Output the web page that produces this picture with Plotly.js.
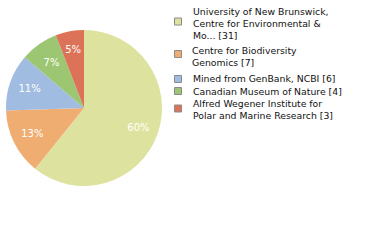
<!DOCTYPE html>
<html>
<head>
<meta charset="utf-8">
<script src="https://cdn.plot.ly/plotly-3.0.1.min.js"></script>
<style>html,body{margin:0;padding:0;background:#fff;}#chart{width:380px;height:240px;}</style>
</head>
<body>
<div id="chart"></div>
<script>
var labels = [
  "University of New Brunswick,<br>Centre for Environmental &<br>Mo... [31]",
  "Centre for Biodiversity<br>Genomics [7]",
  "Mined from GenBank, NCBI [6]",
  "Canadian Museum of Nature [4]",
  "Alfred Wegener Institute for<br>Polar and Marine Research [3]"
];
var values = [31, 7, 6, 4, 3];
var colors = ["#dde39e", "#f0ad72", "#a0bce0", "#9dc672", "#dc7359"];

var total = values.reduce(function(a, b) { return a + b; }, 0);
var pctText = values.map(function(v) { return Math.floor(v / total * 100) + "%"; });

var W = 380, H = 240;
var CX = 84, CY = 108, R = 78;
function domainFor(r) {
  return {x: [(CX - r) / W, (CX + r) / W], y: [1 - (CY + r) / H, 1 - (CY - r) / H]};
}

var pieTrace = {
  type: "pie",
  labels: labels,
  values: values,
  textinfo: "none",
  sort: false,
  direction: "clockwise",
  rotation: 0,
  marker: {colors: colors, line: {color: "#ffffff", width: 0}},
  domain: domainFor(R),
  hoverinfo: "none",
  showlegend: false
};

// transparent rings that only carry the percentage labels
function labelRing(r, keep) {
  return {
    type: "pie",
    labels: labels,
    values: values,
    text: pctText.map(function(t, i) { return keep(values[i] / total) ? t : ""; }),
    textinfo: "text",
    textposition: "inside",
    insidetextorientation: "horizontal",
    insidetextfont: {family: "DejaVu Sans", size: 10, color: "#ffffff"},
    hole: 0.48,
    sort: false,
    direction: "clockwise",
    rotation: 0,
    marker: {colors: colors.map(function() { return "rgba(0,0,0,0)"; }), line: {width: 0}},
    domain: domainFor(r),
    hoverinfo: "none",
    showlegend: false
  };
}
var bigLabels = labelRing(R, function(f) { return f >= 0.1; });
var smallLabels = labelRing(70, function(f) { return f < 0.1; });

// legend layout (pixel rows)
var textRowY = [23, 56, 79, 91, 110];
var swatchRowY = [21.5, 54, 79, 91, 108.5];
var textX = 190.5, swX0 = 174.5, swX1 = 181.5, swHalf = 3.5;

var annotations = labels.map(function(lab, i) {
  return {
    xref: "paper", yref: "paper",
    x: textX / W, y: 1 - textRowY[i] / H,
    xanchor: "left", yanchor: "middle",
    align: "left", showarrow: false,
    text: lab,
    font: {family: "DejaVu Sans", size: 9.3, color: "#111111"}
  };
});
var shapes = colors.map(function(c, i) {
  return {
    type: "rect", xref: "paper", yref: "paper",
    x0: swX0 / W, x1: swX1 / W,
    y0: 1 - (swatchRowY[i] + swHalf) / H, y1: 1 - (swatchRowY[i] - swHalf) / H,
    fillcolor: c, line: {color: "#8a8a8a", width: 1}
  };
});

var layout = {
  width: W,
  height: H,
  margin: {l: 0, r: 0, t: 0, b: 0},
  paper_bgcolor: "#ffffff",
  showlegend: false,
  annotations: annotations,
  shapes: shapes
};

Plotly.newPlot("chart", [pieTrace, bigLabels, smallLabels], layout, {staticPlot: true});
</script>
</body>
</html>
